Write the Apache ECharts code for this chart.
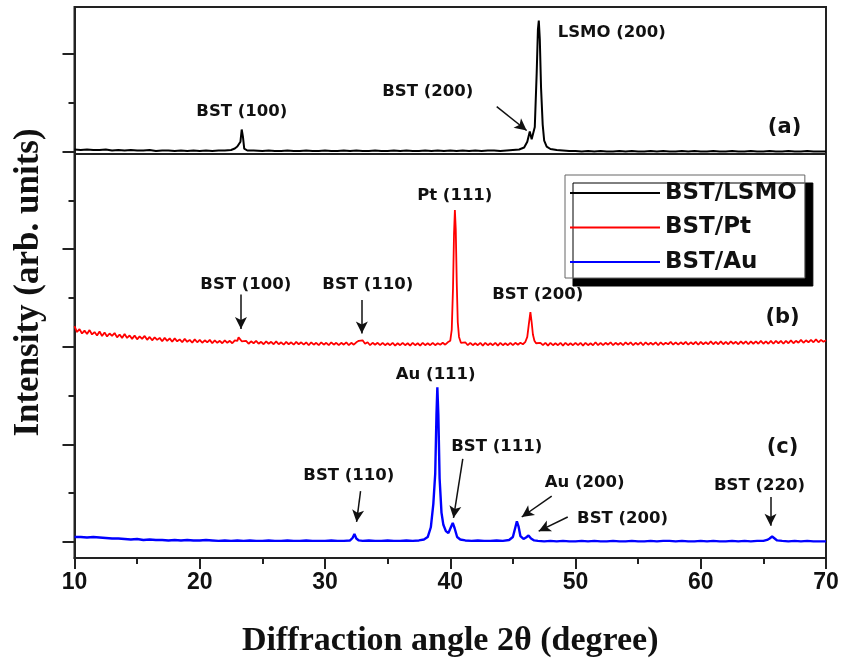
<!DOCTYPE html>
<html>
<head>
<meta charset="utf-8">
<script src="https://cdn.jsdelivr.net/npm/echarts@6/dist/echarts.min.js"></script>
<style>
  html, body { margin: 0; padding: 0; background: #fff; }
  #chart { width: 843px; height: 663px; }
</style>
</head>
<body>
<div id="chart"></div>
<script>
// XRD patterns: [2θ (degree), intensity (arb. units, above each pattern's own baseline)]
const bstLsmo = [
  [10,0.04],[10.5,0.03],[11,0.04],[11.5,0.03],[12,0.03],[12.5,0.04],[13,0.02],[13.5,0.03],[14,0.02],[14.5,0.03],
  [15,0.02],[15.5,0.02],[16,0.03],[16.5,0.01],[17,0.02],[17.5,0.02],[18,0.01],[18.5,0.02],[19,0.01],[19.5,0.02],
  [20,0.01],[20.5,0.02],[21,0.01],[21.5,0.02],[22,0.02],[22.5,0.03],[22.8,0.06],[23.0,0.10],[23.15,0.09],[23.25,0.20],
  [23.35,0.45],[23.45,0.30],[23.55,0.06],[23.8,0.02],[24.3,0.02],[25,0.01],[25.5,0.02],[26,0.01],[26.5,0.01],[27,0.02],
  [27.5,0.01],[28,0.01],[28.5,0.02],[29,0.01],[29.5,0.01],[30,0.02],[30.5,0.01],[31,0.01],[31.5,0.02],[32,0.01],
  [32.5,0.02],[33,0.01],[33.5,0.01],[34,0.02],[34.5,0.01],[35,0.01],[35.5,0.02],[36,0.01],[36.5,0.02],[37,0.01],
  [37.5,0.01],[38,0.02],[38.5,0.01],[39,0.02],[39.5,0.01],[40,0.02],[40.5,0.01],[41,0.02],[41.5,0.01],[42,0.02],
  [42.5,0.01],[43,0.02],[43.5,0.02],[44,0.01],[44.5,0.02],[45,0.03],[45.5,0.04],[45.9,0.08],[46.15,0.20],[46.35,0.41],
  [46.5,0.25],[46.62,0.22],[46.75,0.50],[46.9,1.60],[47.0,2.50],[47.07,2.68],[47.15,2.30],[47.25,1.30],[47.38,0.55],[47.5,0.22],
  [47.7,0.10],[48,0.05],[48.5,0.03],[49,0.02],[49.5,0.01],[50,0.01],[50.5,0.00],[51,0.01],[51.5,0.00],[52,0.01],
  [52.5,0.00],[53,0.00],[53.5,0.01],[54,0.00],[54.5,0.01],[55,0.00],[55.5,0.00],[56,0.01],[56.5,0.00],[57,0.01],
  [57.5,0.00],[58,0.00],[58.5,0.01],[59,0.00],[59.5,0.01],[60,0.00],[60.5,0.00],[61,0.01],[61.5,0.00],[62,0.00],
  [62.5,0.01],[63,0.00],[63.5,0.00],[64,0.01],[64.5,0.00],[65,0.00],[65.5,0.01],[66,0.00],[66.5,0.00],[67,0.01],
  [67.5,0.00],[68,0.00],[68.5,0.01],[69,0.00],[69.5,0.00],[70,0.00]
];

const bstPt = [
  [10.0,0.42],[10.2,0.30],[10.4,0.36],[10.6,0.27],[10.8,0.33],[11.0,0.26],[11.2,0.34],[11.4,0.25],[11.6,0.30],[11.8,0.23],
  [12.0,0.31],[12.2,0.22],[12.4,0.29],[12.6,0.21],[12.8,0.27],[13.0,0.22],[13.2,0.28],[13.4,0.19],[13.6,0.25],[13.8,0.18],
  [14.0,0.26],[14.2,0.18],[14.4,0.23],[14.6,0.16],[14.8,0.23],[15.0,0.15],[15.2,0.21],[15.4,0.16],[15.6,0.22],[15.8,0.14],
  [16.0,0.20],[16.2,0.13],[16.4,0.19],[16.6,0.14],[16.8,0.18],[17.0,0.11],[17.2,0.18],[17.4,0.12],[17.6,0.17],[17.8,0.10],
  [18.0,0.17],[18.2,0.11],[18.4,0.15],[18.6,0.09],[18.8,0.16],[19.0,0.10],[19.2,0.14],[19.4,0.08],[19.6,0.15],[19.8,0.09],
  [20.0,0.14],[20.2,0.08],[20.4,0.13],[20.6,0.09],[20.8,0.14],[21.0,0.07],[21.2,0.13],[21.4,0.08],[21.6,0.12],[21.8,0.07],
  [22.0,0.13],[22.2,0.08],[22.4,0.12],[22.6,0.07],[22.8,0.13],[23.0,0.12],[23.1,0.19],[23.2,0.21],[23.35,0.11],[23.5,0.07],
  [23.7,0.12],[23.9,0.06],[24.1,0.11],[24.3,0.07],[24.5,0.12],[24.7,0.06],[24.9,0.10],[25.1,0.05],[25.3,0.11],[25.5,0.06],
  [25.7,0.10],[25.9,0.05],[26.1,0.11],[26.3,0.05],[26.5,0.09],[26.7,0.04],[26.9,0.10],[27.1,0.05],[27.3,0.09],[27.5,0.04],
  [27.7,0.10],[27.9,0.05],[28.1,0.09],[28.3,0.04],[28.5,0.09],[28.7,0.03],[28.9,0.09],[29.1,0.04],[29.3,0.08],[29.5,0.03],
  [29.7,0.09],[29.9,0.04],[30.1,0.08],[30.3,0.03],[30.5,0.09],[30.7,0.04],[30.9,0.08],[31.1,0.03],[31.3,0.08],[31.5,0.04],
  [31.7,0.09],[31.9,0.03],[32.1,0.08],[32.3,0.04],[32.5,0.09],[32.7,0.12],[32.85,0.08],[33.0,0.13],[33.2,0.06],[33.4,0.09],
  [33.6,0.03],[33.8,0.08],[34.0,0.04],[34.2,0.08],[34.4,0.03],[34.6,0.08],[34.8,0.03],[35.0,0.07],[35.2,0.03],[35.4,0.08],
  [35.6,0.02],[35.8,0.07],[36.0,0.03],[36.2,0.08],[36.4,0.03],[36.6,0.07],[36.8,0.02],[37.0,0.08],[37.2,0.03],[37.4,0.07],
  [37.6,0.02],[37.8,0.08],[38.0,0.03],[38.2,0.07],[38.4,0.03],[38.6,0.08],[38.8,0.03],[39.0,0.07],[39.2,0.04],[39.4,0.08],
  [39.6,0.04],[39.8,0.09],[40.0,0.12],[40.12,0.35],[40.22,1.20],[40.3,2.30],[40.37,2.80],[40.44,2.40],[40.52,1.30],[40.6,0.50],
  [40.7,0.20],[40.85,0.08],[41.0,0.04],[41.2,0.09],[41.4,0.03],[41.6,0.08],[41.8,0.03],[42.0,0.07],[42.2,0.03],[42.4,0.08],
  [42.6,0.02],[42.8,0.08],[43.0,0.03],[43.2,0.07],[43.4,0.03],[43.6,0.08],[43.8,0.02],[44.0,0.08],[44.2,0.03],[44.4,0.07],
  [44.6,0.03],[44.8,0.08],[45.0,0.03],[45.2,0.08],[45.4,0.04],[45.6,0.08],[45.8,0.05],[46.0,0.10],[46.15,0.20],[46.27,0.45],
  [46.4,0.71],[46.5,0.50],[46.6,0.25],[46.72,0.12],[46.85,0.07],[47.0,0.03],[47.2,0.08],[47.4,0.03],[47.6,0.08],[47.8,0.02],
  [48.0,0.08],[48.2,0.03],[48.4,0.07],[48.6,0.03],[48.8,0.08],[49.0,0.02],[49.2,0.08],[49.4,0.03],[49.6,0.07],[49.8,0.03],
  [50.0,0.08],[50.2,0.03],[50.4,0.08],[50.6,0.02],[50.8,0.08],[51.0,0.03],[51.2,0.07],[51.4,0.03],[51.6,0.09],[51.8,0.03],
  [52.0,0.08],[52.2,0.03],[52.4,0.08],[52.6,0.04],[52.8,0.09],[53.0,0.03],[53.2,0.08],[53.4,0.04],[53.6,0.08],[53.8,0.03],
  [54.0,0.09],[54.2,0.04],[54.4,0.09],[54.6,0.03],[54.8,0.08],[55.0,0.04],[55.2,0.09],[55.4,0.03],[55.6,0.09],[55.8,0.04],
  [56.0,0.08],[56.2,0.04],[56.4,0.09],[56.6,0.03],[56.8,0.09],[57.0,0.04],[57.2,0.08],[57.4,0.05],[57.6,0.10],[57.8,0.04],
  [58.0,0.09],[58.2,0.04],[58.4,0.09],[58.6,0.05],[58.8,0.10],[59.0,0.04],[59.2,0.09],[59.4,0.05],[59.6,0.10],[59.8,0.04],
  [60.0,0.10],[60.2,0.05],[60.4,0.09],[60.6,0.05],[60.8,0.11],[61.0,0.05],[61.2,0.10],[61.4,0.05],[61.6,0.11],[61.8,0.05],
  [62.0,0.10],[62.2,0.05],[62.4,0.11],[62.6,0.06],[62.8,0.10],[63.0,0.05],[63.2,0.11],[63.4,0.06],[63.6,0.11],[63.8,0.05],
  [64.0,0.11],[64.2,0.06],[64.4,0.11],[64.6,0.06],[64.8,0.12],[65.0,0.06],[65.2,0.11],[65.4,0.06],[65.6,0.12],[65.8,0.06],
  [66.0,0.12],[66.2,0.07],[66.4,0.12],[66.6,0.06],[66.8,0.12],[67.0,0.07],[67.2,0.13],[67.4,0.07],[67.6,0.12],[67.8,0.08],
  [68.0,0.14],[68.2,0.08],[68.4,0.13],[68.6,0.09],[68.8,0.14],[69.0,0.09],[69.2,0.15],[69.4,0.09],[69.6,0.14],[69.8,0.10],
  [70.0,0.13]
];

const bstAu = [
  [10,0.10],[10.5,0.10],[11,0.09],[11.5,0.10],[12,0.09],[12.5,0.08],[13,0.07],[13.5,0.07],[14,0.06],[14.5,0.05],
  [15,0.06],[15.5,0.04],[16,0.05],[16.5,0.04],[17,0.04],[17.5,0.03],[18,0.04],[18.5,0.03],[19,0.04],[19.5,0.03],
  [20,0.03],[20.5,0.04],[21,0.03],[21.5,0.02],[22,0.03],[22.5,0.02],[23,0.03],[23.5,0.02],[24,0.03],[24.5,0.02],
  [25,0.02],[25.5,0.03],[26,0.02],[26.5,0.02],[27,0.03],[27.5,0.02],[28,0.02],[28.5,0.03],[29,0.02],[29.5,0.02],
  [30,0.02],[30.5,0.03],[31,0.02],[31.5,0.02],[32,0.03],[32.2,0.08],[32.35,0.16],[32.5,0.07],[32.7,0.03],[33,0.02],
  [33.5,0.03],[34,0.02],[34.5,0.02],[35,0.03],[35.5,0.02],[36,0.02],[36.5,0.03],[37,0.02],[37.5,0.03],[37.9,0.05],
  [38.2,0.10],[38.45,0.30],[38.65,0.78],[38.8,1.40],[38.9,2.60],[38.97,3.17],[39.05,2.60],[39.15,1.30],[39.3,0.60],[39.45,0.35],
  [39.65,0.22],[39.85,0.18],[40.05,0.30],[40.2,0.39],[40.35,0.28],[40.55,0.10],[40.8,0.05],[41.2,0.03],[41.7,0.02],[42.2,0.03],
  [42.7,0.02],[43.2,0.02],[43.7,0.03],[44.2,0.02],[44.7,0.04],[45.0,0.10],[45.2,0.30],[45.32,0.42],[45.45,0.32],[45.6,0.12],
  [45.85,0.06],[46.05,0.09],[46.25,0.13],[46.45,0.07],[46.7,0.03],[47,0.02],[47.5,0.01],[48,0.02],[48.5,0.01],[49,0.02],
  [49.5,0.01],[50,0.01],[50.5,0.02],[51,0.01],[51.5,0.02],[52,0.01],[52.5,0.01],[53,0.02],[53.5,0.01],[54,0.01],
  [54.5,0.02],[55,0.01],[55.5,0.01],[56,0.02],[56.5,0.01],[57,0.02],[57.5,0.02],[58,0.01],[58.5,0.02],[59,0.01],
  [59.5,0.01],[60,0.02],[60.5,0.01],[61,0.02],[61.5,0.01],[62,0.01],[62.5,0.02],[63,0.01],[63.5,0.02],[64,0.01],
  [64.5,0.02],[65,0.02],[65.3,0.04],[65.5,0.07],[65.7,0.11],[65.9,0.07],[66.1,0.03],[66.5,0.02],[67,0.01],[67.5,0.02],
  [68,0.01],[68.5,0.02],[69,0.01],[69.5,0.01],[70,0.01]
];

// vertical offset of each pattern in the stacked plot
const seriesNames = ['BST/LSMO', 'BST/Pt', 'BST/Au'];
const seriesColors = ['#000000', '#ff0000', '#0000ff'];
const baselines = [8, 4, 0];

// x axis
const xMin = 10, xMax = 70, xStep = 10;

// peak labels: [text, 2θ, stacked intensity]
const labelsA = [['BST (100)', 23.36, 8.81], ['BST (200)', 38.2, 9.22], ['LSMO (200)', 52.89, 10.43]];
const labelsB = [['Pt (111)', 40.36, 7.10], ['BST (100)', 23.68, 5.26], ['BST (110)', 33.42, 5.26], ['BST (200)', 46.98, 5.07]];
const labelsC = [['Au (111)', 38.84, 3.42], ['BST (111)', 43.71, 1.96], ['BST (110)', 31.90, 1.35],
                 ['Au (200)', 50.73, 1.21], ['BST (200)', 53.76, 0.47], ['BST (220)', 64.69, 1.15]];
const panelTags = [['(a)', 66.69, 8.49], ['(b)', 66.53, 4.60], ['(c)', 66.53, 1.94]];

// arrows: [from 2θ, from y, to 2θ, to y]
const arrowsA = [[43.71, 8.92, 46.10, 8.43]];
const arrowsB = [[23.29, 5.07, 23.29, 4.36], [32.94, 4.955, 32.94, 4.27]];
const arrowsC = [[41.0, 1.70, 40.26, 0.49], [32.84, 1.04, 32.52, 0.41], [48.10, 0.94, 45.71, 0.51],
                 [49.38, 0.51, 47.06, 0.22], [65.57, 0.92, 65.57, 0.33]];

const yMin = -0.33, yMax = 10.96;
const panelDivider = 7.96;

const labelFont = { fontFamily: 'DejaVu Sans', fontWeight: 'bold', color: '#111' };

function markPoints(labels, tag) {
  const items = labels.map(l => ({ name: l[0], coord: [l[1], l[2]], label: { fontSize: 16.5 } }));
  items.push({ name: tag[0], coord: [tag[1], tag[2]], label: { fontSize: 21 } });
  return {
    symbol: 'rect', symbolSize: 1,
    itemStyle: { color: 'rgba(0,0,0,0)' },
    label: Object.assign({ show: true, position: 'inside', formatter: '{b}' }, labelFont),
    data: items
  };
}

function markArrows(arrows, withDivider) {
  const data = arrows.map(a => [
    { coord: [a[0], a[1]], symbol: 'none' },
    { coord: [a[2], a[3]], symbol: 'arrow', symbolSize: [9, 12] }
  ]);
  if (withDivider) {
    data.push([
      { coord: [xMin, panelDivider], symbol: 'none', lineStyle: { color: '#222', width: 2 } },
      { coord: [xMax, panelDivider], symbol: 'none' }
    ]);
  }
  return {
    silent: true,
    symbol: ['none', 'arrow'],
    symbolSize: 10,
    itemStyle: { color: '#111' },
    lineStyle: { color: '#111', width: 1.5, type: 'solid' },
    label: { show: false },
    emphasis: { disabled: true },
    data: data
  };
}

const patterns = [bstLsmo, bstPt, bstAu];
const labelSets = [labelsA, labelsB, labelsC];
const arrowSets = [arrowsA, arrowsB, arrowsC];
const lineWidths = [2, 1.8, 2.4];

const series = patterns.map((p, i) => ({
  name: seriesNames[i],
  type: 'line',
  symbol: 'none',
  smooth: false,
  z: 3 - i,
  lineStyle: { color: seriesColors[i], width: lineWidths[i] },
  itemStyle: { color: seriesColors[i] },
  data: p.map(d => [d[0], d[1] + baselines[i]]),
  markPoint: markPoints(labelSets[i], panelTags[i]),
  markLine: markArrows(arrowSets[i], i === 0)
}));

const chart = echarts.init(document.getElementById('chart'), null, { renderer: 'canvas' });
chart.setOption({
  animation: false,
  backgroundColor: '#fff',
  grid: {
    left: 74.5, right: 17, top: 7, bottom: 104,
    show: true, borderColor: '#222', borderWidth: 2, backgroundColor: 'transparent'
  },
  legend: {
    data: seriesNames,
    orient: 'vertical',
    left: 565, top: 175,
    icon: 'rect',
    itemWidth: 90, itemHeight: 2, itemGap: 8.5,
    padding: [5, 8, 3, 5],
    backgroundColor: '#fff',
    borderColor: '#666', borderWidth: 1,
    shadowColor: '#000', shadowBlur: 0, shadowOffsetX: 8, shadowOffsetY: 8,
    selectedMode: false,
    textStyle: { fontFamily: 'DejaVu Sans', fontWeight: 'bold', fontSize: 23, lineHeight: 26, color: '#111' }
  },
  xAxis: {
    type: 'value', min: xMin, max: xMax, interval: xStep,
    name: 'Diffraction angle 2θ (degree)',
    nameLocation: 'middle', nameGap: 66,
    nameTextStyle: { fontFamily: 'Liberation Serif', fontWeight: 'bold', fontSize: 34, color: '#111' },
    axisLine: { show: true, onZero: false, lineStyle: { color: '#222', width: 2 } },
    axisTick: { show: true, inside: false, length: 11, lineStyle: { color: '#222', width: 2 } },
    minorTick: { show: true, splitNumber: 2, length: 6, lineStyle: { color: '#222', width: 2 } },
    axisLabel: { margin: 13, fontFamily: 'Liberation Sans', fontWeight: 'bold', fontSize: 23, color: '#111' },
    splitLine: { show: false }
  },
  yAxis: [{
    type: 'value', min: yMin, max: yMax,
    name: 'Intensity (arb. units)',
    nameLocation: 'middle', nameGap: 28,
    nameTextStyle: { fontFamily: 'Liberation Serif', fontWeight: 'bold', fontSize: 35, color: '#111' },
    axisLine: { show: true, onZero: false, lineStyle: { color: '#222', width: 2 } },
    axisTick: { show: true, inside: false, length: 12, customValues: [0, 2, 4, 6, 8, 10], lineStyle: { color: '#222', width: 2 } },
    axisLabel: { show: false },
    splitLine: { show: false }
  }, {
    type: 'value', min: yMin, max: yMax, position: 'left',
    axisLine: { show: false },
    axisTick: { show: true, inside: false, length: 6, customValues: [1, 3, 5, 7, 9], lineStyle: { color: '#222', width: 2 } },
    axisLabel: { show: false },
    splitLine: { show: false }
  }],
  series: series
});
</script>
</body>
</html>
